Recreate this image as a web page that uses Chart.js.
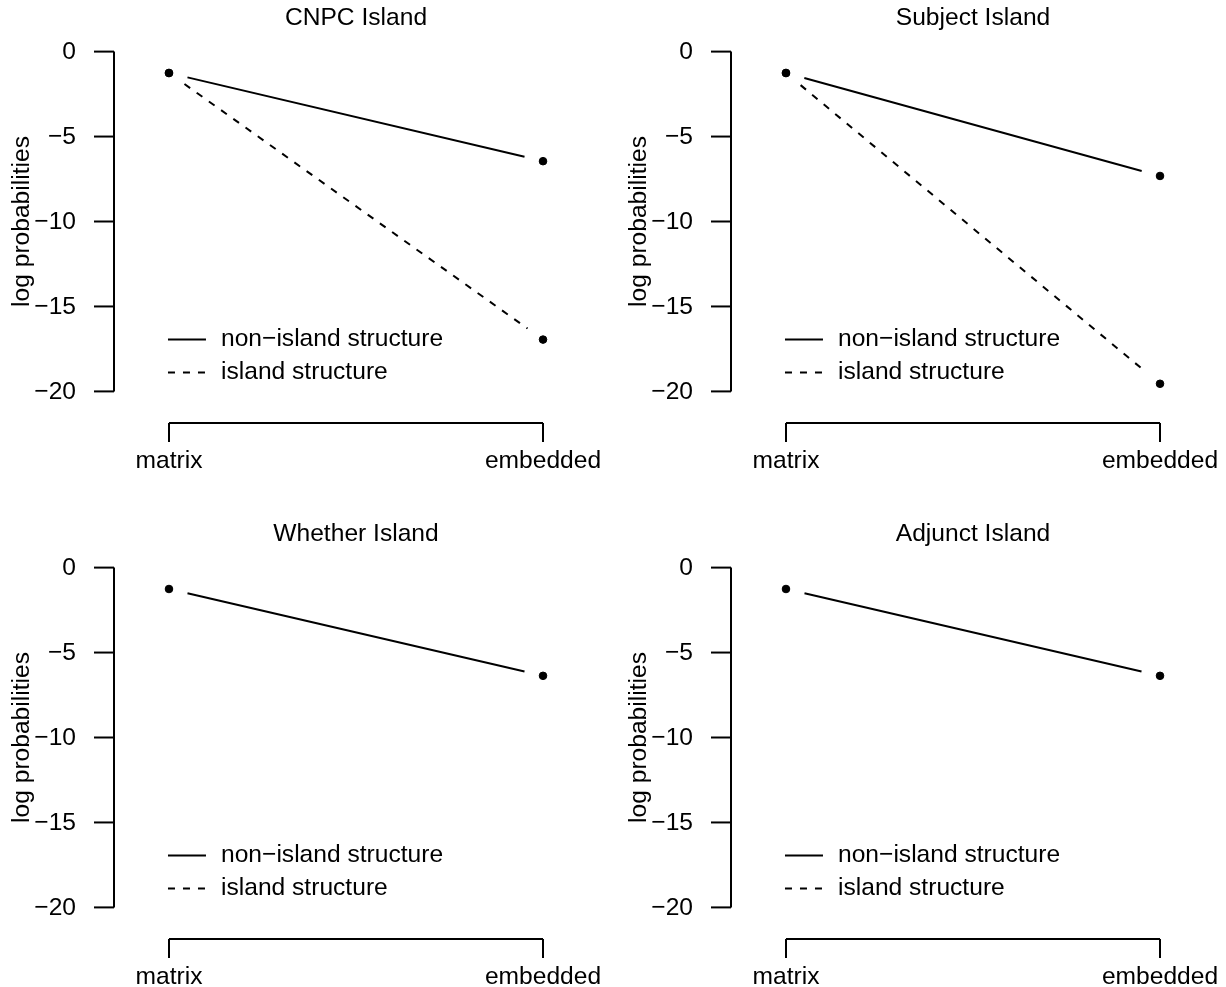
<!DOCTYPE html>
<html>
<head>
<meta charset="utf-8">
<script src="https://cdn.jsdelivr.net/npm/chart.js@4"></script>
<style>
  body { margin: 0; background: #fff; }
  .panel { position: absolute; }
</style>
</head>
<body>
<div class="panel" style="left:0;top:0"><canvas id="p0" width="613" height="471"></canvas></div>
<div class="panel" style="left:617px;top:0"><canvas id="p1" width="609" height="471"></canvas></div>
<div class="panel" style="left:0;top:516px"><canvas id="p2" width="613" height="471"></canvas></div>
<div class="panel" style="left:617px;top:516px"><canvas id="p3" width="609" height="471"></canvas></div>
<script>
const categories = ["matrix", "embedded"];
const panelTitles = ["CNPC Island", "Subject Island", "Whether Island", "Adjunct Island"];
const seriesLabels = ["non\u2212island structure", "island structure"];
const yTicks = [0, -5, -10, -15, -20];
const yTickLabels = ["0", "\u22125", "\u221210", "\u221215", "\u221220"];

// log probabilities, one pair (matrix, embedded) per series
const cnpcNonIsland = [-1.26, -6.45];
const cnpcIsland = [-1.26, -16.95];
const subjectNonIsland = [-1.26, -7.32];
const subjectIsland = [-1.26, -19.55];
const whetherNonIsland = [-1.26, -6.37];
const whetherIsland = [null, null];
const adjunctNonIsland = [-1.26, -6.37];
const adjunctIsland = [null, null];

const panels = [
  [cnpcNonIsland, cnpcIsland],
  [subjectNonIsland, subjectIsland],
  [whetherNonIsland, whetherIsland],
  [adjunctNonIsland, adjunctIsland]
];

const FONT = "24.6px 'Liberation Sans', Arial, Helvetica, sans-serif";
const dashes = [[], [7, 8]];

// R-style "type = b" lines: segments stop short of the points
const gapLines = {
  id: "gapLines",
  afterDatasetsDraw(chart) {
    const ctx = chart.ctx;
    const gap = 19;
    ctx.save();
    ctx.strokeStyle = "#000";
    ctx.lineWidth = 2;
    chart.data.datasets.forEach((ds, i) => {
      const pts = chart.getDatasetMeta(i).data;
      ctx.setLineDash(dashes[i]);
      for (let j = 0; j + 1 < pts.length; j++) {
        if (ds.data[j].y === null || ds.data[j + 1].y === null) continue;
        const a = pts[j], b = pts[j + 1];
        const dx = b.x - a.x, dy = b.y - a.y;
        const len = Math.hypot(dx, dy);
        if (len <= 2 * gap) continue;
        const ux = dx / len, uy = dy / len;
        ctx.beginPath();
        ctx.moveTo(a.x + ux * gap, a.y + uy * gap);
        ctx.lineTo(b.x - ux * gap, b.y - uy * gap);
        ctx.stroke();
      }
    });
    ctx.restore();
  }
};

// base-graphics axes, title and legend
const rDecor = {
  id: "rDecor",
  afterDraw(chart) {
    const ctx = chart.ctx;
    const { x, y } = chart.scales;
    const area = chart.chartArea;
    ctx.save();
    ctx.strokeStyle = "#000";
    ctx.fillStyle = "#000";
    ctx.lineWidth = 2;
    ctx.setLineDash([]);
    ctx.font = FONT;

    // y axis
    const ax = area.left;
    ctx.beginPath();
    ctx.moveTo(ax, y.getPixelForValue(yTicks[0]));
    ctx.lineTo(ax, y.getPixelForValue(yTicks[yTicks.length - 1]));
    ctx.stroke();
    ctx.textAlign = "right";
    ctx.textBaseline = "middle";
    yTicks.forEach((t, i) => {
      const py = y.getPixelForValue(t);
      ctx.beginPath();
      ctx.moveTo(ax, py);
      ctx.lineTo(ax - 20, py);
      ctx.stroke();
      ctx.fillText(yTickLabels[i], ax - 38, py + 1);
    });

    // x axis
    const ay = area.bottom + 18;
    const x1 = x.getPixelForValue(1), x2 = x.getPixelForValue(categories.length);
    ctx.beginPath();
    ctx.moveTo(x1, ay);
    ctx.lineTo(x2, ay);
    ctx.stroke();
    ctx.textAlign = "center";
    ctx.textBaseline = "alphabetic";
    categories.forEach((c, i) => {
      const px = x.getPixelForValue(i + 1);
      ctx.beginPath();
      ctx.moveTo(px, ay);
      ctx.lineTo(px, ay + 19);
      ctx.stroke();
      ctx.fillText(c, px, ay + 45);
    });

    // title
    ctx.textBaseline = "middle";
    ctx.fillText(chart.options.plugins.rTitle, (x1 + x2) / 2, 18);

    // y label
    ctx.save();
    ctx.translate(22, (y.getPixelForValue(yTicks[0]) + y.getPixelForValue(yTicks[yTicks.length - 1])) / 2);
    ctx.rotate(-Math.PI / 2);
    ctx.fillText("log probabilities", 0, 0);
    ctx.restore();

    // legend
    const lx = x1 - 1;
    const ly = y.getPixelForValue(-16.95);
    ctx.textAlign = "left";
    seriesLabels.forEach((s, i) => {
      const py = ly + i * 33;
      ctx.setLineDash(dashes[i]);
      ctx.beginPath();
      ctx.moveTo(lx, py);
      ctx.lineTo(lx + 38, py);
      ctx.stroke();
      ctx.setLineDash([]);
      ctx.fillText(s, lx + 53, py);
    });
    ctx.restore();
  }
};

panels.forEach((series, p) => {
  const canvas = document.getElementById("p" + p);
  new Chart(canvas.getContext("2d"), {
    type: "line",
    data: {
      datasets: series.map((vals, i) => ({
        label: seriesLabels[i],
        data: vals.map((v, j) => ({ x: j + 1, y: v })),
        showLine: false,
        pointRadius: 3.8,
        pointBackgroundColor: "#000",
        pointBorderColor: "#000",
        pointBorderWidth: 1,
        borderColor: "#000"
      }))
    },
    options: {
      responsive: false,
      animation: false,
      events: [],
      layout: { padding: { left: 114, right: canvas.width - 598, top: 38, bottom: 471 - 405 } },
      scales: {
        x: { type: "linear", display: false, min: 0.853, max: 2.147 },
        y: { type: "linear", display: false, min: -20.8, max: 0.8 }
      },
      plugins: {
        legend: { display: false },
        tooltip: { enabled: false },
        rTitle: panelTitles[p]
      }
    },
    plugins: [gapLines, rDecor]
  });
});
</script>
</body>
</html>
